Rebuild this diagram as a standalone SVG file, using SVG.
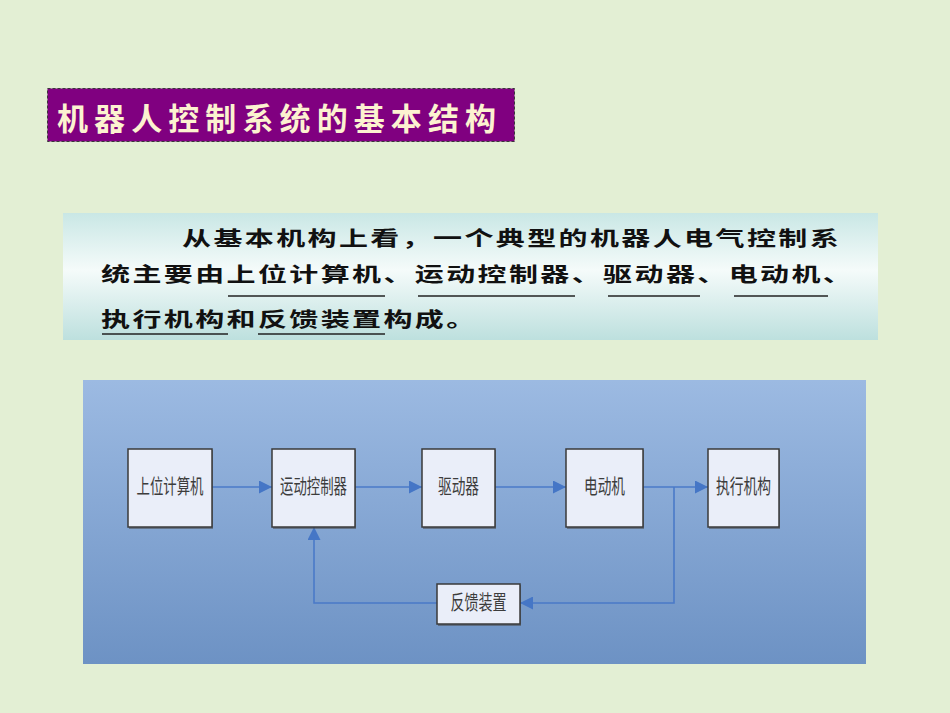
<svg xmlns="http://www.w3.org/2000/svg" width="950" height="713" viewBox="0 0 950 713">
<defs>
<linearGradient id="gText" x1="0" y1="0" x2="0" y2="1">
<stop offset="0" stop-color="#c9e7e5"/>
<stop offset="0.45" stop-color="#f5fbfa"/>
<stop offset="1" stop-color="#bde0de"/>
</linearGradient>
<linearGradient id="gPanel" x1="0" y1="0" x2="0" y2="1">
<stop offset="0" stop-color="#9cbae2"/>
<stop offset="1" stop-color="#6d92c4"/>
</linearGradient>
<marker id="arr" viewBox="0 0 13 13" refX="13" refY="6.5" markerWidth="13" markerHeight="13" markerUnits="userSpaceOnUse" orient="auto">
<path d="M0,0 L13,6.5 L0,13 Z" fill="#4576c6"/>
</marker>
</defs>
<style>
.title{font-family:"Noto Sans CJK SC","Noto Sans",sans-serif;font-size:31px;font-weight:bold;fill:#fcf2d0}
.para{font-family:"Noto Sans CJK SC","Noto Sans",sans-serif;font-size:29px;font-weight:bold;fill:#111;letter-spacing:2.4px}
.ul{stroke:#222;stroke-width:1.6}
.box{fill:#eaeef9;stroke:#3a3a3a;stroke-width:1.5}
.shadow{fill:#4a4a4a;opacity:0.55}
.lbl{font-family:"Noto Sans CJK SC","Noto Sans",sans-serif;font-size:20px;fill:#3c3c3c}
.conn{fill:none;stroke:#4a7ac8;stroke-width:1.6}
</style>
<rect x="0" y="0" width="950" height="713" fill="#e3efd4"/>

<g id="title">
<rect x="47.5" y="88.5" width="467" height="53" fill="#800080" stroke="#3a3a3a" stroke-width="1" stroke-dasharray="3,2"/>
<text class="title" x="57" y="130" textLength="439" lengthAdjust="spacing">机器人控制系统的基本结构</text>
</g>

<g id="paragraph">
<rect x="63" y="213" width="815" height="127" fill="url(#gText)"/>
<text class="para" transform="translate(182,246) scale(1,0.7)" x="0" y="0">从基本机构上看，一个典型的机器人电气控制系</text>
<text class="para" transform="translate(101,282) scale(1,0.7)" x="0" y="0">统主要由上位计算机、运动控制器、驱动器、电动机、</text>
<text class="para" transform="translate(101,327) scale(1,0.7)" x="0" y="0">执行机构和反馈装置构成。</text>
<line class="ul" x1="228" y1="296" x2="385" y2="296"/>
<line class="ul" x1="418" y1="296" x2="575" y2="296"/>
<line class="ul" x1="608" y1="296" x2="700" y2="296"/>
<line class="ul" x1="734" y1="296" x2="828" y2="296"/>
<line class="ul" x1="102" y1="334" x2="228" y2="334"/>
<line class="ul" x1="258" y1="334" x2="385" y2="334"/>
</g>

<rect id="panel" x="83" y="380" width="783" height="284" fill="url(#gPanel)"/>

<g id="connectors">
<line class="conn" x1="212" y1="487" x2="272" y2="487" marker-end="url(#arr)"/>
<line class="conn" x1="355" y1="487" x2="422" y2="487" marker-end="url(#arr)"/>
<line class="conn" x1="495" y1="487" x2="566" y2="487" marker-end="url(#arr)"/>
<line class="conn" x1="643" y1="487" x2="708" y2="487" marker-end="url(#arr)"/>
<polyline class="conn" points="674,487 674,603 520,603" marker-end="url(#arr)"/>
<polyline class="conn" points="437,603 314,603 314,527" marker-end="url(#arr)"/>
</g>

<g id="n1">
<rect class="shadow" x="129" y="450" width="84" height="79"/>
<rect class="box" x="128" y="449" width="84" height="78"/>
<text class="lbl" x="170" y="494" text-anchor="middle" textLength="67" lengthAdjust="spacingAndGlyphs">上位计算机</text>
</g>
<g id="n2">
<rect class="shadow" x="273" y="450" width="83" height="79"/>
<rect class="box" x="272" y="449" width="83" height="78"/>
<text class="lbl" x="313.5" y="494" text-anchor="middle" textLength="67" lengthAdjust="spacingAndGlyphs">运动控制器</text>
</g>
<g id="n3">
<rect class="shadow" x="423" y="450" width="73" height="79"/>
<rect class="box" x="422" y="449" width="73" height="78"/>
<text class="lbl" x="458.5" y="494" text-anchor="middle" textLength="41" lengthAdjust="spacingAndGlyphs">驱动器</text>
</g>
<g id="n4">
<rect class="shadow" x="567" y="450" width="77" height="79"/>
<rect class="box" x="566" y="449" width="77" height="78"/>
<text class="lbl" x="604.5" y="494" text-anchor="middle" textLength="41" lengthAdjust="spacingAndGlyphs">电动机</text>
</g>
<g id="n5">
<rect class="shadow" x="709" y="450" width="71" height="79"/>
<rect class="box" x="708" y="449" width="71" height="78"/>
<text class="lbl" x="743.5" y="494" text-anchor="middle" textLength="55" lengthAdjust="spacingAndGlyphs">执行机构</text>
</g>
<g id="n6">
<rect class="shadow" x="438" y="585" width="83" height="41"/>
<rect class="box" x="437" y="584" width="83" height="40"/>
<text class="lbl" x="478.5" y="610" text-anchor="middle" textLength="56" lengthAdjust="spacingAndGlyphs">反馈装置</text>
</g>
</svg>
